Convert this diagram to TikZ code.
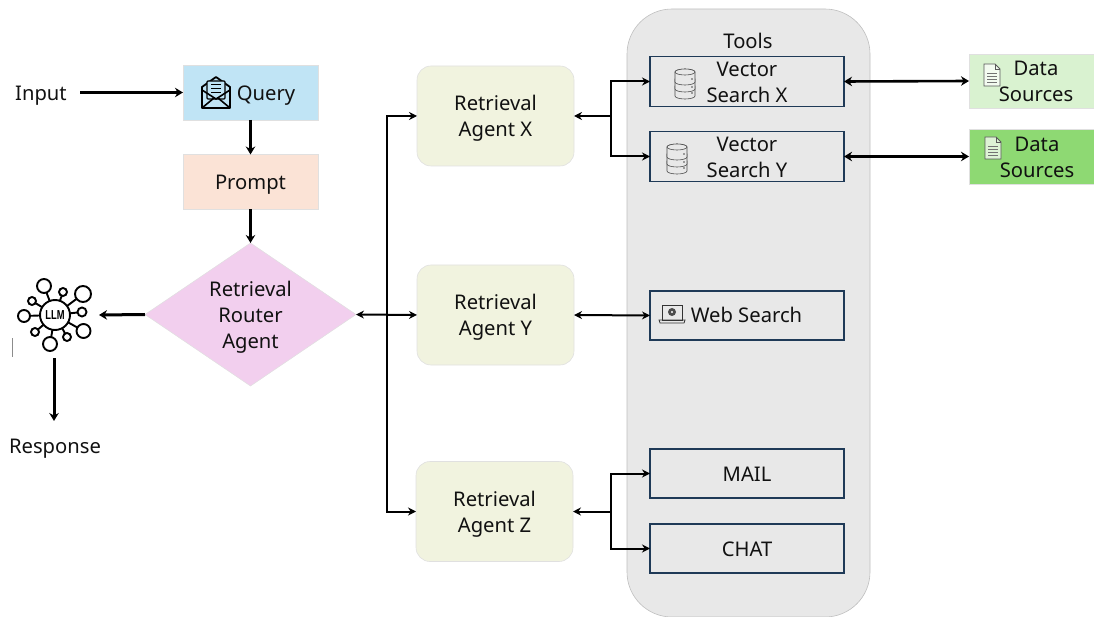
\documentclass[tikz,border=0pt]{standalone}
\usepackage{fontspec}
\setmainfont{Noto Sans}
\newfontfamily\llmfont{Liberation Sans}
\usetikzlibrary{shapes.geometric,arrows.meta}
\definecolor{qblue}{HTML}{C0E4F5}
\definecolor{ppeach}{HTML}{FBE3D6}
\definecolor{dpink}{HTML}{F2CFEE}
\definecolor{agcol}{HTML}{F1F3DF}
\definecolor{tgray}{HTML}{E8E8E8}
\definecolor{navy}{HTML}{1F3A57}
\definecolor{dlight}{HTML}{D9F2D0}
\definecolor{ddark}{HTML}{8ED973}
\definecolor{ink}{HTML}{111111}
\newcommand{\vbal}[1]{\rule{0pt}{20pt}#1\rule[-4pt]{0pt}{4pt}}
\tikzset{
  txt/.style={font=\fontsize{20.2}{26}\selectfont,text=ink,align=center,inner sep=0pt,outer sep=0pt},
  flat/.style={txt,rectangle,minimum width=#1,draw=black!12,line width=0.6pt},
  agent/.style={txt,rectangle,rounded corners=14pt,fill=agcol,draw=black!12,line width=0.6pt,minimum width=157pt,minimum height=100pt},
  tool/.style={txt,rectangle,fill=tgray,draw=navy,line width=1.5pt,minimum width=194pt,minimum height=49pt},
  thin arrow/.style={line width=2pt,draw=black,{Stealth[length=8pt,width=8pt]}-{Stealth[length=8pt,width=8pt]}},
  thin tail/.style={line width=2pt,draw=black,-{Stealth[length=8pt,width=8pt]}},
  thick arrow/.style={line width=3pt,draw=black,-{Stealth[length=8pt,width=9.5pt]}},
  thick both/.style={line width=2.6pt,draw=black,{Stealth[length=8pt,width=9.5pt]}-{Stealth[length=8pt,width=9.5pt]}},
  hub/.style={circle,draw=black,line width=1.9pt,fill=white,inner sep=0pt,outer sep=0pt},
  dbicon/.pic={
    \foreach \yy in {9,2,-5}{
      \draw[line width=0.6pt,draw=black!70,fill=tgray] (-10,\yy-5) -- (-10,\yy+5) arc[start angle=180,end angle=360,x radius=10,y radius=-3] -- (10,\yy-5) arc[start angle=0,end angle=-180,x radius=10,y radius=3] -- cycle;
    }
    \draw[line width=0.6pt,draw=black!70,fill=tgray] (0,-10) ellipse[x radius=10,y radius=3];
    \foreach \yy in {-3,5,11} \fill[black!70] (7,\yy) circle[radius=0.8];
  },
  docicon/.pic={
    \draw[line width=0.8pt,draw=black!65,fill=white,fill opacity=0.7] (-8,-11) -- (3,-11) -- (8,-6) -- (8,11) -- (-8,11) -- cycle;
    \draw[line width=0.6pt,draw=black!65] (3,-11) -- (3,-6) -- (8,-6);
    \foreach \yy in {-2,1,4,7} \draw[line width=0.9pt,draw=black!55] (-5,\yy) -- (5,\yy);
  },
}
\begin{document}
\begin{tikzpicture}[x=1pt,y=-1pt]
\useasboundingbox (0,0) rectangle (1094,617);
% tools panel
\node[rectangle,rounded corners=45pt,fill=tgray,draw=black!25,line width=0.6pt,minimum width=243pt,minimum height=608pt,outer sep=0pt] (panel) at (748.5,313) {};
\node[txt] (tools) at (748,41) {\vbal{Tools}};
% left column
\node[txt] (input) at (41,92.5) {\vbal{Input}};
\node[flat=135pt,fill=qblue,minimum height=55pt] (query) at (250.5,92.5) {};
\node[txt] (querytext) at (266,92.5) {\vbal{Query}};
\node[flat=135pt,fill=ppeach,minimum height=55pt] (prompt) at (250.5,182) {\vbal{Prompt}};
\node[txt,diamond,fill=dpink,draw=black!12,line width=0.5pt,aspect=1.47,minimum width=211pt,minimum height=143pt] (router) at (250.5,314.5) {\vbal{Retrieval\\Router\\Agent}};
\coordinate (inputend) at (80,92.5);
\node[txt] (response) at (55,445.5) {\vbal{Response}};
% LLM icon
\coordinate (llmc) at (55,315);
\foreach \n/\x/\y/\r in {a/44/286/7,b/63/292/4,c/83/294/8,d/82/312/4.5,e/83.5/331/7,f/67/337/4,g/50/344/7,h/35/332/4,i/24/316/6,j/32/301/4}{
  \draw[line width=1.9pt] (llmc) -- (\x,\y);
  \node[hub,minimum size=2*\r pt] (s\n) at (\x,\y) {};
}
\node[hub,minimum size=30pt,font=\llmfont\bfseries\fontsize{13}{13}\selectfont] (llm) at (llmc) {\scalebox{0.72}[1]{LLM}};
\draw[black!45,line width=0.6pt] (12,338) -- (12,357);
\coordinate (llmin) at (99,315);
\coordinate (llmout) at (54,358);
\coordinate (respin) at (54,421);
% mail icon
\begin{scope}[shift={(216,93)}]
  \draw[line width=1.8pt,fill=qblue,line join=round] (-14,-6) -- (0,-16) -- (14,-6) -- (14,15) -- (-14,15) -- cycle;
  \draw[line width=1.4pt,fill=qblue,rounded corners=1pt] (-9,-12) rectangle (9,6);
  \foreach \yy in {-8,-4,0} \draw[line width=1pt] (-5,\yy) -- (5,\yy);
  \draw[line width=1.6pt] (-14,-3) -- (0,6) -- (14,-3);
  \draw[line width=1.6pt] (-14,15) -- (-2,5);
  \draw[line width=1.6pt] (14,15) -- (2,5);
\end{scope}
% agents
\node[agent] (agx) at (495.5,116) {\vbal{Retrieval\\Agent X}};
\node[agent] (agy) at (495.5,315) {\vbal{Retrieval\\Agent Y}};
\node[agent] (agz) at (494.5,511.5) {\vbal{Retrieval\\Agent Z}};
% tools
\node[tool] (vx) at (747,81.5) {\vbal{Vector\\Search X}};
\node[tool] (vy) at (747,156.5) {\vbal{Vector\\Search Y}};
\node[tool] (web) at (747,315.5) {};
\node[txt] (webtext) at (746.5,315) {\vbal{Web Search}};
\node[tool] (mail) at (747,473.5) {\vbal{MAIL}};
\node[tool] (chat) at (747,548.5) {\vbal{CHAT}};
\pic at (685,82) {dbicon};
\pic at (677,157) {dbicon};
% laptop icon
\begin{scope}[shift={(672,314)}]
  \draw[line width=0.8pt,draw=black!80] (-10,-9) rectangle (10,6);
  \draw[line width=0.8pt,draw=black!80] (-13,6) -- (13,6) -- (12,9) -- (-12,9) -- cycle;
  \fill[black!70] (0,-2) circle[radius=4];
  \fill[white] (0,-2) circle[radius=1.2];
\end{scope}
% data sources
\node[flat=125pt,fill=dlight,minimum height=54pt] (dsa) at (1031.5,81) {};
\node[txt] (dsatext) at (1036,81) {\vbal{Data\\Sources}};
\node[flat=125pt,fill=ddark,minimum height=55pt] (dsb) at (1031.5,156.5) {};
\node[txt] (dsbtext) at (1037,156.5) {\vbal{Data\\Sources}};
\pic at (992,75) {docicon};
\pic at (993,148) {docicon};
% connectors
\draw[thick arrow] (inputend) -- (query.west);
\draw[thick arrow] (query.south) -- (prompt.north);
\draw[thick arrow] (prompt.south) -- (router.north);
\draw[thick arrow] (router.west) -- (llmin);
\draw[thick arrow] (llmout) -- (respin);
\coordinate (trunk) at (387,314.5);
\draw[thin arrow] (router.east) -- (agy.west);
\draw[thin tail] (trunk) |- (agx.west);
\draw[thin tail] (trunk) |- (agz.west);
\coordinate (jx) at (611,116);
\coordinate (jz) at (611,511.5);
\draw[thin tail] (jx) -- (agx.east);
\draw[thin tail] (jx) |- (vx.west);
\draw[thin tail] (jx) |- (vy.west);
\draw[thin arrow] (agy.east) -- (web.west);
\draw[thin tail] (jz) -- (agz.east);
\draw[thin tail] (jz) |- (mail.west);
\draw[thin tail] (jz) |- (chat.west);
\draw[thick both] (vx.east) -- (dsa.west);
\draw[thick both] (vy.east) -- (dsb.west);
\end{tikzpicture}
\end{document}
